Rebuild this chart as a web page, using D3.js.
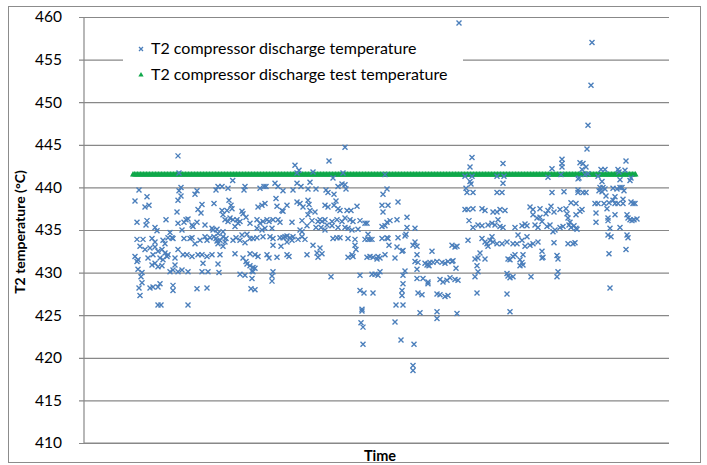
<!DOCTYPE html>
<html>
<head>
<meta charset="utf-8">
<script src="https://cdn.jsdelivr.net/npm/d3@7"></script>
<style>
  html, body { margin: 0; padding: 0; background: #fff; }
  svg { display: block; font-family: Lato, "Open Sans", sans-serif; }
</style>
</head>
<body>
<div id="chart"></div>
<script>
// Measured T2 compressor discharge temperature: [sample time, °C]
const dischargeReadings = [
  [45,443.7],[46,441.7],[48,440.0],[46,439.6],[48,439.0],[45,438.5],[6,439.7],[2,438.4],[14,438.9],[12,437.7],[16,437.9],[64,439.6],[62,439.2],[69,438.0],[65,437.4],[68,437.0],[44,437.1],[33,436.2],[4,435.9],[14,436.1],[13,435.6],[22,435.3],[24,434.9],[45,435.8],[53,436.2],[55,436.3],[51,435.9],[59,435.6],[60,435.4],[64,435.9],[72,435.6],[37,434.7],[49,435.0],[39,434.1],[35,434.1],[40,434.0],[4,433.9],[10,433.9],[19,434.0],[22,433.6],[30,433.8],[32,433.4],[51,434.0],[57,434.0],[59,434.1],[62,433.4],[67,433.8],[72,434.2],[74,433.8],[7,433.1],[12,432.7],[17,432.9],[22,433.0],[25,432.5],[29,432.7],[32,432.3],[35,432.1],[54,432.1],[50,432.1],[59,431.9],[65,432.1],[69,432.1],[74,431.9],[2,431.9],[5,431.5],[15,431.7],[20,432.1],[27,431.7],[30,431.5],[34,431.9],[42,431.7],[45,432.7],[19,430.9],[22,431.1],[25,430.7],[29,430.8],[42,430.9],[40,430.3],[37,430.1],[45,430.1],[49,430.3],[55,430.1],[70,431.1],[69,430.1],[75,430.1],[4,431.3],[5,430.4],[9,430.0],[8,429.5],[9,428.8],[6,428.2],[7,427.3],[17,428.2],[20,428.3],[27,428.7],[25,428.3],[40,428.5],[40,427.9],[64,428.1],[74,428.2],[25,426.2],[28,426.2],[55,426.2],
  [99.7,440.8],[85,440.1],[89,440.1],[95,439.9],[83,439.7],[112,440.1],[111,439.7],[127,439.9],[131,440.1],[133,440.1],[142,440.5],[145,440.1],[150,439.6],[160,439.7],[81,438.1],[96,438.5],[98,437.9],[99,437.5],[94,437.3],[89,437.3],[90,436.8],[92,436.2],[95,436.0],[97,436.4],[100,436.2],[104,436.2],[105,435.8],[107,436.0],[102,435.4],[109,437.2],[110,436.9],[113,436.5],[125,437.7],[129,437.9],[132,438.1],[143,438.7],[144,437.8],[149,437.3],[150,437.2],[154,437.9],[117,435.8],[124,436.2],[127,435.8],[130,436.0],[134,436.2],[136,436.0],[140,436.2],[145,436.2],[147,435.9],[159,435.9],[79,435.2],[80,435.0],[84,435.1],[85,434.6],[90,434.8],[124,435.2],[129,435.0],[132,435.2],[139,435.2],[109,434.4],[114,434.5],[107,433.8],[117,434.0],[120,434.0],[124,434.1],[130,434.2],[137,434.2],[140,434.0],[147,434.1],[150,434.1],[152,434.2],[154,434.3],[157,434.1],[160,434.2],[159,433.8],[154,433.6],[77,434.1],[81,434.2],[83,434.0],[84,433.7],[87,433.8],[90,434.2],[93,434.0],[92,433.6],[100,433.8],[103,434.1],[85,433.4],[90,433.1],[112,433.5],[140,433.2],[148,433.1],[79,432.1],[87,432.1],[102,432.2],[117,432.2],[122,432.1],[125,431.9],[134,432.1],[136,431.7],[144,431.8],[154,432.1],[156,431.9],[110,431.7],[113,431.3],[114,431.0],[117,430.8],[120,430.6],[122,430.5],[119,430.2],[120,430.1],[140,430.1],[139,429.6],[139,429.0],[85,431.0],[86,430.0],[107,429.8],[112,429.7],[119,429.3],[118,428.1],[122,428.0],
  [212,444.7],[196,443.1],[200,441.1],[210,441.7],[162,442.6],[166,442.0],[180,441.8],[164,441.7],[177,440.6],[164,440.5],[168,440.1],[175,439.8],[183,439.8],[193,439.7],[195,439.4],[205,440.1],[209,440.4],[212,440.3],[213,439.8],[201,439.2],[164,438.3],[167,438.1],[175,438.5],[176,438.0],[170,437.7],[177,437.3],[182,437.1],[192,437.9],[195,437.7],[201,437.9],[203,438.4],[205,437.5],[207,437.3],[214,437.3],[218,437.3],[224,437.8],[169,436.1],[175,436.8],[179,436.1],[185,436.0],[187,436.2],[189,436.0],[192,436.2],[194,435.6],[199,436.0],[204,436.2],[209,436.0],[212,436.4],[217,436.2],[220,436.0],[227,436.1],[232,435.8],[234,435.8],[167,435.0],[169,434.8],[174,435.5],[183,435.3],[188,435.3],[192,435.0],[199,435.5],[205,435.3],[212,435.3],[215,435.2],[219,435.0],[225,435.1],[165,433.9],[169,434.2],[172,433.9],[200,434.0],[204,434.1],[207,434.1],[215,434.0],[222,433.9],[232,433.9],[235,433.9],[237,433.9],[239,433.9],[235,434.5],[180,433.2],[187,432.9],[222,433.2],[223,432.7],[174,432.1],[184,432.3],[185,431.8],[189,432.2],[219,432.1],[220,431.9],[215,431.8],[234,431.8],[237,431.9],[240,431.8],[244,431.6],[245,431.9],[198,429.5],[227,429.7],[239,429.8],[242,429.8],[245,429.7],[227,427.9],[231,427.6],[240,427.6],[229,425.7],[229,425.5],[228,424.1],[230,423.6],[230,421.6],
  [252,441.5],[254,439.8],[250,439.2],[265,438.3],[249,437.9],[255,437.9],[250,437.1],[274,436.5],[264,436.2],[257,436.1],[254,435.9],[252,435.5],[249,435.4],[274,435.3],[282,435.2],[273,434.5],[272,434.3],[265,434.1],[249,434.0],[254,434.1],[255,434.0],[256,433.2],[264,433.0],[269,432.5],[270,432.6],[282,433.6],[284,433.1],[280,433.2],[319,433.2],[322,433.0],[324,433.1],[252,432.1],[247,431.7],[262,431.7],[299,432.5],[284,432.1],[282,431.3],[285,431.2],[292,431.1],[294,430.9],[297,431.2],[300,431.2],[304,431.3],[309,431.2],[312,431.1],[315,431.3],[319,431.3],[320,431.4],[295,431.0],[296,430.8],[247,430.1],[272,430.2],[270,429.7],[284,430.4],[323,430.5],[270,428.7],[269,427.9],[269,427.3],[263,426.2],[270,426.2],[284,429.3],[290,429.3],[295,428.9],[295,428.7],[307,429.2],[310,428.9],[314,429.1],[317,429.4],[322,429.2],[325,429.1],[285,427.6],[289,427.4],[304,427.5],[307,427.4],[312,427.2],[315,427.3],[287,425.3],[304,425.4],[304,424.6],[324,425.2],[262,424.2],[268,422.1],[281,421.6],[280,419.1],[280,418.5],[326,459.3],
  [339,443.5],[337,442.4],[370,442.8],[332,441.3],[339,441.3],[364,441.3],[371,441.3],[337,440.7],[338,440.4],[370,440.5],[333,439.9],[334,439.4],[340,439.4],[364,439.4],[369,439.4],[332,437.4],[335,437.4],[340,437.5],[349,437.5],[352,437.3],[360,437.1],[364,437.1],[367,437.4],[372,437.3],[397,437.7],[400,437.4],[407,437.5],[336,436.1],[340,435.3],[345,435.6],[349,435.5],[355,435.6],[359,435.8],[362,435.6],[365,436.2],[367,435.4],[370,435.3],[382,435.3],[389,435.5],[392,435.7],[394,435.5],[400,436.8],[404,436.4],[407,436.5],[409,436.0],[402,435.6],[405,435.3],[335,433.8],[349,434.0],[352,433.6],[354,433.4],[357,433.8],[359,434.2],[360,433.6],[355,433.1],[364,433.4],[369,433.4],[374,433.6],[380,433.4],[384,433.4],[385,434.4],[392,433.1],[394,434.2],[397,433.2],[400,433.4],[405,433.6],[389,433.8],[347,432.3],[342,431.6],[345,431.7],[352,431.6],[344,430.8],[345,430.1],[375,431.6],[377,431.5],[380,431.9],[382,432.1],[387,431.5],[389,431.2],[390,432.1],[387,430.8],[390,430.9],[409,432.5],[409,431.7],[410,431.8],[342,429.5],[374,429.9],[375,429.6],[377,429.4],[380,429.5],[398,429.5],[344,427.6],[374,427.5],[377,425.4],
  [455,447.3],[454,444.5],[429,443.3],[429,442.8],[429,442.4],[419,442.2],[428,441.5],[447,442.9],[450,442.8],[453,442.4],[449,442.1],[455,441.6],[452,441.5],[493,443.1],[492,442.0],[485,442.1],[486,441.8],[468,442.1],[472,442.1],[465,441.3],[415,441.2],[446,441.1],[445,441.0],[487,440.9],[498,441.1],[497,440.8],[419,439.4],[431,439.5],[445,439.7],[445,439.4],[450,439.4],[453,439.4],[469,440.7],[467,440.0],[470,440.0],[472,439.8],[466,439.6],[469,439.5],[473,439.0],[480,439.9],[484,439.8],[487,440.0],[489,440.0],[491,439.6],[482,438.9],[480,438.5],[490,438.6],[498,438.3],[500,438.1],[502,438.1],[438,438.2],[443,438.1],[433,437.5],[427,437.4],[421,437.1],[415,437.3],[413,436.9],[449,437.4],[447,437.2],[474,437.5],[462,438.1],[465,438.1],[471,438.1],[476,438.2],[482,438.1],[485,438.1],[490,438.1],[418,437.8],[434,436.9],[435,436.4],[437,435.9],[436,435.6],[438,435.3],[441,435.5],[443,435.2],[444,435.1],[430,435.4],[427,435.3],[422,435.0],[420,434.8],[417,435.6],[414,435.4],[443,436.8],[463,437.0],[463,435.9],[475,436.4],[475,436.1],[482,436.8],[494,436.8],[495,436.4],[497,436.2],[499,436.1],[501,436.2],[504,436.3],[477,435.2],[487,435.3],[475,434.4],[478,434.2],[494,434.4],[495,434.1],[493,432.7],[476,432.2],[421,433.5],[435,433.4],[442,433.5],[440,433.4],[425,431.6],[424,432.0],[425,430.1],[424,429.5],[477,428.2],[459,457.0],[458,452.0]
];

// Test (limit) temperature, held constant over the run
const testTemperature = 441.5;
const testTimes = d3.range(0, 504, 1.5);

const yTicks = [410, 415, 420, 425, 430, 435, 440, 445, 450, 455, 460];
const timeDomain = [-49, 536];
const tempDomain = [410, 460];

const seriesNames = ["T2 compressor discharge temperature", "T2 compressor discharge test temperature"];
const axisTitles = { y: "T2 temperature (°C)", x: "Time" };

const W = 707, H = 465;
const plot = { left: 84, right: 669, top: 17, bottom: 443 };
const blue = "#4a7ebb", green = "#0fa84a";

const svg = d3.select("#chart").append("svg").attr("width", W).attr("height", H);

// outer chart frame
svg.append("rect").attr("x", 8.5).attr("y", 6.5).attr("width", 692).attr("height", 456)
  .attr("fill", "#fff").attr("stroke", "#8c8c8c").attr("stroke-width", 1);

const x = d3.scaleLinear().domain(timeDomain).range([plot.left, plot.right]);
const y = d3.scaleLinear().domain(tempDomain).range([plot.bottom, plot.top]);

// y axis with gridlines
const yAxis = svg.append("g").attr("transform", `translate(${plot.left},0)`)
  .call(d3.axisLeft(y).tickValues(yTicks).tickSizeOuter(0).tickPadding(16));
yAxis.select(".domain").remove();
yAxis.selectAll(".tick line").attr("x1", -5).attr("x2", plot.right - plot.left)
  .attr("stroke", "#888").attr("stroke-width", 1.2);
yAxis.selectAll(".tick text").attr("font-size", 15.5).attr("fill", "#000")
  .attr("font-family", "Lato, sans-serif");

// axis lines
svg.append("line").attr("x1", plot.left).attr("x2", plot.left)
  .attr("y1", plot.top).attr("y2", plot.bottom).attr("stroke", "#888").attr("stroke-width", 1.2);
svg.append("line").attr("x1", plot.left).attr("x2", plot.right)
  .attr("y1", plot.bottom).attr("y2", plot.bottom).attr("stroke", "#888").attr("stroke-width", 1.2);

// test temperature: dense triangle markers forming a band
const tri = d3.symbol().type(d3.symbolTriangle).size(16);
svg.append("g").selectAll("path").data(testTimes).join("path")
  .attr("d", tri)
  .attr("transform", d => `translate(${x(d)},${y(testTemperature)})`)
  .attr("fill", green);

// measured temperature: x markers
const cross = (g, cx, cy, r) => g.append("path")
  .attr("d", `M${cx - r},${cy - r}L${cx + r},${cy + r}M${cx - r},${cy + r}L${cx + r},${cy - r}`);
const pts = svg.append("g").attr("stroke", blue).attr("stroke-width", 1.4).attr("fill", "none");
dischargeReadings.forEach(([t, v]) => cross(pts, x(t), y(v), 2.5));

// legend
const lg = svg.append("g");
lg.append("rect").attr("x", 123).attr("y", 30).attr("width", 340).attr("height", 60).attr("fill", "#fff");
cross(lg.append("g").attr("stroke", blue).attr("stroke-width", 1.3), 141, 49, 2);
lg.append("path").attr("d", d3.symbol().type(d3.symbolTriangle).size(12))
  .attr("transform", "translate(141,75)").attr("fill", green);
lg.selectAll("text").data(seriesNames).join("text")
  .attr("x", 151).attr("y", (d, i) => 54 + i * 26)
  .attr("font-size", 16).attr("fill", "#000").text(d => d);

// axis titles
svg.append("text").attr("transform", "translate(25,232) rotate(-90)")
  .attr("text-anchor", "middle").attr("font-weight", "bold").attr("font-size", 14)
  .text(axisTitles.y);
svg.append("text").attr("x", 380).attr("y", 461)
  .attr("text-anchor", "middle").attr("font-weight", "bold").attr("font-size", 14.5)
  .text(axisTitles.x);
</script>
</body>
</html>
